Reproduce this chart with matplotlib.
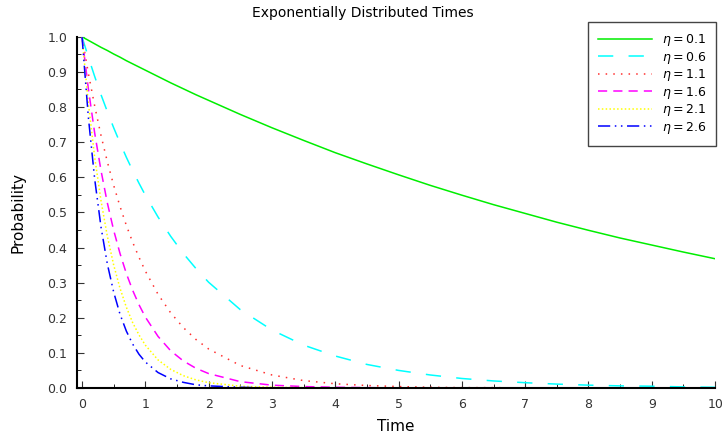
import matplotlib
matplotlib.use('Agg')
import matplotlib.pyplot as plt
from matplotlib.ticker import MultipleLocator

# Time points and probability values
t = [0, 0.1, 0.2, 0.3, 0.4, 0.5, 0.6, 0.7, 0.8, 0.9, 1.0,
     1.2, 1.4, 1.6, 1.8, 2.0, 2.5, 3, 3.5, 4, 4.5, 5, 5.5,
     6, 6.5, 7, 7.5, 8, 8.5, 9, 9.5, 10]

etas = [0.1, 0.6, 1.1, 1.6, 2.1, 2.6]

p_01 = [1.0, 0.990, 0.980, 0.970, 0.961, 0.951, 0.942, 0.932, 0.923, 0.914, 0.905,
        0.887, 0.869, 0.852, 0.835, 0.819, 0.779, 0.741, 0.705, 0.670, 0.638, 0.607, 0.577,
        0.549, 0.522, 0.497, 0.472, 0.449, 0.427, 0.407, 0.387, 0.368]
p_06 = [1.0, 0.942, 0.887, 0.835, 0.787, 0.741, 0.698, 0.657, 0.619, 0.583, 0.549,
        0.487, 0.432, 0.383, 0.340, 0.301, 0.223, 0.165, 0.122, 0.091, 0.067, 0.050, 0.037,
        0.027, 0.020, 0.015, 0.011, 0.008, 0.006, 0.005, 0.003, 0.002]
p_11 = [1.0, 0.896, 0.803, 0.719, 0.644, 0.577, 0.517, 0.463, 0.415, 0.372, 0.333,
        0.267, 0.214, 0.172, 0.138, 0.111, 0.064, 0.037, 0.021, 0.012, 0.007, 0.004, 0.002,
        0.001, 0.001, 0.0, 0.0, 0.0, 0.0, 0.0, 0.0, 0.0]
p_16 = [1.0, 0.852, 0.726, 0.619, 0.527, 0.449, 0.383, 0.326, 0.278, 0.237, 0.202,
        0.147, 0.106, 0.077, 0.056, 0.041, 0.018, 0.008, 0.004, 0.002, 0.001, 0.0, 0.0,
        0.0, 0.0, 0.0, 0.0, 0.0, 0.0, 0.0, 0.0, 0.0]
p_21 = [1.0, 0.811, 0.657, 0.533, 0.432, 0.350, 0.284, 0.230, 0.186, 0.151, 0.122,
        0.080, 0.053, 0.035, 0.023, 0.015, 0.005, 0.002, 0.001, 0.0, 0.0, 0.0, 0.0,
        0.0, 0.0, 0.0, 0.0, 0.0, 0.0, 0.0, 0.0, 0.0]
p_26 = [1.0, 0.771, 0.595, 0.458, 0.353, 0.273, 0.210, 0.162, 0.125, 0.096, 0.074,
        0.044, 0.026, 0.016, 0.009, 0.006, 0.002, 0.0, 0.0, 0.0, 0.0, 0.0, 0.0,
        0.0, 0.0, 0.0, 0.0, 0.0, 0.0, 0.0, 0.0, 0.0]

series = [p_01, p_06, p_11, p_16, p_21, p_26]
colors = ['#00ee00', '#00ffff', '#ff3030', '#ff00ff', '#ffff00', '#0000ff']
styles = ['-', (0, (10, 10)), (0, (1, 4)), (0, (6, 4)), (0, (1, 1.5)), (0, (8, 3, 1, 3, 1, 3))]

fig = plt.figure(figsize=(7.26, 4.33), dpi=100)
ax = fig.add_axes([0.106, 0.104, 0.879, 0.811])

for eta, p, c, ls in zip(etas, series, colors, styles):
    ax.plot(t, p, color=c, linestyle=ls, linewidth=1.1, label=r'$\eta = %.1f$' % eta)

ax.set_xlim(-0.08, 10)
ax.set_ylim(0, 1.0)
ax.xaxis.set_major_locator(MultipleLocator(1))
ax.xaxis.set_minor_locator(MultipleLocator(0.5))
ax.yaxis.set_major_locator(MultipleLocator(0.1))
ax.yaxis.set_minor_locator(MultipleLocator(0.05))
ax.set_yticks([i / 10 for i in range(11)])
ax.set_yticklabels(['%.1f' % (i / 10) for i in range(11)])

ax.spines['top'].set_visible(False)
ax.spines['right'].set_visible(False)
ax.spines['left'].set_linewidth(1.5)
ax.spines['bottom'].set_linewidth(1.5)
ax.tick_params(which='major', direction='in', length=5, labelsize=9, colors='#333333', pad=7)
ax.tick_params(which='minor', direction='in', length=3)

ax.set_xlabel('Time', fontsize=11, labelpad=6)
ax.set_ylabel('Probability', fontsize=11, labelpad=16)
fig.suptitle('Exponentially Distributed Times', fontsize=10, y=0.985)

leg = ax.legend(loc='upper right', bbox_to_anchor=(0.986, 0.949),
                bbox_transform=fig.transFigure, borderaxespad=0, fancybox=False,
                edgecolor='#444444', framealpha=1, fontsize=9,
                handlelength=4.3, labelspacing=0.12, borderpad=0.8)
leg.get_frame().set_linewidth(1.0)

fig.savefig('out.png', dpi=100)
